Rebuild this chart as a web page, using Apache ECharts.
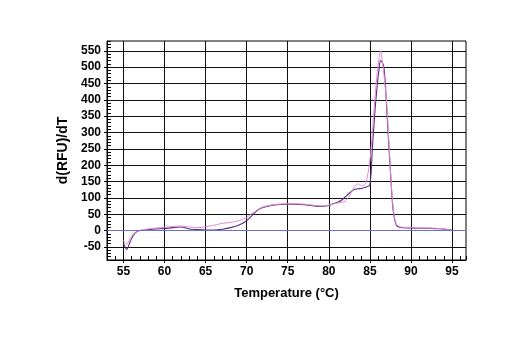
<!DOCTYPE html>
<html>
<head>
<meta charset="utf-8">
<script src="https://cdn.jsdelivr.net/npm/echarts@6/dist/echarts.min.js"></script>
<style>
html,body{margin:0;padding:0;background:#fff;}
#chart{width:520px;height:350px;}
</style>
</head>
<body>
<div id="chart"></div>
<script>
// melt curve, two replicates
var temps = [55, 55.4, 55.8, 56.2, 56.6, 57, 58, 59, 60, 61, 62, 63, 64, 65, 66, 67, 68, 69, 70, 70.5, 71, 71.5, 72, 73, 74, 75, 76, 77, 78, 79, 80, 80.5, 81, 81.5, 82, 82.5, 83, 83.5, 84, 84.5, 85, 85.3, 85.6, 85.9, 86.1, 86.3, 86.5, 86.7, 86.9, 87.1, 87.3, 87.5, 87.7, 87.9, 88.2, 88.6, 89, 90, 91, 92, 93, 94, 94.5, 95];
var darkValues = [-38, -58, -35, -15, -4, 0, 3, 5, 6, 9, 11, 5, 3, 2, 2, 4, 9, 16, 30, 42, 55, 65, 71, 77, 80, 81, 80, 79, 76, 74, 77, 82, 86, 92, 103, 115, 124, 128, 129, 133, 140, 250, 360, 446, 490, 520, 515, 500, 440, 350, 265, 180, 100, 50, 18, 10, 9, 8, 7, 7, 6, 5, 3, 1];
var pinkValues = [-30, -42, -25, -10, -3, 1, 5, 8, 10, 13, 14, 11, 9, 12, 16, 22, 25, 30, 40, 50, 58, 66, 72, 78, 81, 82, 82, 81, 78, 75, 78, 81, 84, 86, 90, 105, 129, 143, 137, 145, 215, 300, 400, 485, 525, 550, 520, 480, 430, 370, 280, 190, 107, 55, 20, 12, 10, 9, 8, 8, 7, 5, 3, 1];
var xTicks = [55, 60, 65, 70, 75, 80, 85, 90, 95];
var yTicks = [-50, 0, 50, 100, 150, 200, 250, 300, 350, 400, 450, 500, 550];

function pairs(xs, ys){
	var out = [];
	for(var i=0;i<xs.length;i++){
		out.push([xs[i], ys[i]]);
	}
	return out;
}

var font = '"Liberation Sans Narrow", "Arial Narrow", "Liberation Sans", sans-serif';
var chart = echarts.init(document.getElementById("chart"));
var option = {
	animation: false,
	grid: {
		left: 107, right: 54, top: 41, bottom: 90,
		show: true, borderColor: '#000', borderWidth: 1
	},
	xAxis: [{
		type: 'value',
		min: 53, max: 96.7,
		name: 'Temperature (°C)',
		nameLocation: 'middle',
		nameGap: 27,
		nameTextStyle: {fontFamily: font, fontWeight: 'bold', fontSize: 13, color: '#000'},
		axisLine: {onZero: false, lineStyle: {color: '#000'}},
		axisTick: {customValues: xTicks, length: 3, lineStyle: {color: '#000'}},
		axisLabel: {customValues: xTicks, margin: 6, fontFamily: font, fontWeight: 'bold', fontSize: 12, color: '#000'},
		splitLine: {show: true, lineStyle: {color: '#111', width: 1}}
	}, {
		//小刻度
		type: 'value',
		min: 53, max: 96.7, interval: 1,
		position: 'bottom',
		axisLine: {show: false, onZero: false},
		axisTick: {inside: true, length: 4, lineStyle: {color: '#000'}},
		axisLabel: {show: false},
		splitLine: {show: false}
	}],
	yAxis: [{
		type: 'value',
		min: -90, max: 580,
		name: 'd(RFU)/dT',
		nameLocation: 'middle',
		nameGap: 36,
		nameTextStyle: {fontFamily: font, fontWeight: 'bold', fontSize: 14, color: '#000'},
		axisLine: {show: true, onZero: false, lineStyle: {color: '#000'}},
		axisTick: {customValues: yTicks, length: 3, lineStyle: {color: '#000'}},
		axisLabel: {customValues: yTicks, margin: 6, fontFamily: font, fontWeight: 'bold', fontSize: 12, color: '#000'},
		splitLine: {show: true, lineStyle: {color: '#111', width: 1}}
	}, {
		type: 'value',
		min: -90, max: 580, interval: 10,
		position: 'left',
		axisLine: {show: false, onZero: false},
		axisTick: {inside: true, length: 4, lineStyle: {color: '#000'}},
		axisLabel: {show: false},
		splitLine: {show: false}
	}],
	series: [{
		type: 'line',
		data: pairs(temps, darkValues),
		showSymbol: false,
		smooth: 0.3,
		lineStyle: {color: '#55307a', width: 1.1},
		markLine: {
			silent: true,
			symbol: 'none',
			label: {show: false},
			lineStyle: {color: '#6f6fd8', type: 'solid', width: 1},
			data: [{yAxis: 0}]
		}
	}, {
		type: 'line',
		data: pairs(temps, pinkValues),
		showSymbol: false,
		smooth: 0.3,
		lineStyle: {color: '#e48ad6', width: 1}
	}]
};
chart.setOption(option);
</script>
</body>
</html>
